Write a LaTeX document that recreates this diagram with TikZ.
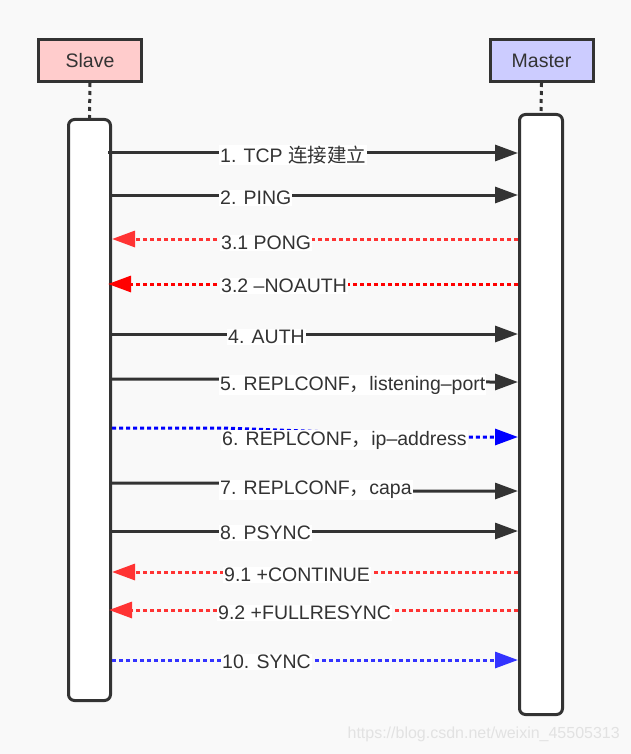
\documentclass[tikz,border=0pt]{standalone}
\usepackage{fontspec}
\setmainfont{Liberation Sans}
\newfontfamily\cjk{Noto Sans CJK SC}
\usetikzlibrary{arrows.meta}
\definecolor{ink}{HTML}{333333}
\definecolor{bg}{HTML}{F9F9F9}
\definecolor{slavefill}{HTML}{FFCCCC}
\definecolor{masterfill}{HTML}{CCCCFF}
\definecolor{redA}{HTML}{FF3333}
\definecolor{redB}{HTML}{FF0000}
\definecolor{blueA}{HTML}{0000FF}
\definecolor{blueB}{HTML}{3333FF}
\definecolor{wm}{HTML}{E2E2E2}
\tikzset{
  actor/.style={draw=ink, line width=3pt, minimum width=103pt, minimum height=42pt, inner sep=0pt, font=\fontsize{19.5}{22}\selectfont, text=ink},
  lifeline/.style={draw=ink, fill=white, line width=3pt, rounded corners=6pt, inner sep=0pt},
  msg/.style={line width=3pt, draw=ink},
  solidmsg/.style={msg, -{Triangle[length=23pt,width=16pt]}},
  dotmsg/.style={line width=3pt, dash pattern=on 4pt off 3pt, -{Triangle[length=23pt,width=16pt]}},
  lbl/.style={fill=white, inner sep=1pt, anchor=west, font=\fontsize{19.5}{22}\selectfont, text=ink},
  connector/.style={draw=ink, line width=3pt, dash pattern=on 4pt off 4pt},
}
\begin{document}
\begin{tikzpicture}[x=1pt, y=-1pt]
\fill[bg] (0,0) rectangle (631,754);
\useasboundingbox (0,0) rectangle (631,754);

\node[actor, fill=slavefill] (slave) at (90,60.5) {Slave};
\node[actor, fill=masterfill] (master) at (541.5,60.5) {Master};

\node[lifeline, minimum width=42pt, minimum height=581pt] (sl) at (89.5,410) {};
\node[lifeline, minimum width=43pt, minimum height=600pt] (ml) at (541,414.5) {};

\draw[connector] (slave.south) -- (sl.north);
\draw[connector] (master.south) -- (ml.north);

% 1
\draw[solidmsg] (108,153) -- (ml.west |- 0,153);
\node[lbl] (l1) at (219,155) {1. TCP {\cjk 连接建立}};
% 2
\draw[solidmsg] (sl.east |- 0,195) -- (ml.west |- 0,195);
\node[lbl] (l2) at (219,198) {2. PING};
% 3.1
\draw[dotmsg, redA] (ml.west |- 0,239) -- (sl.east |- 0,239);
\node[lbl] (l31) at (220,243) {3.1 PONG};
% 3.2
\draw[dotmsg, redB] (ml.west |- 0,284) -- (108,284);
\node[lbl] (l32) at (220,286) {3.2 –NOAUTH};
% 4
\draw[solidmsg] (sl.east |- 0,334) -- (ml.west |- 0,334);
\node[lbl] (l4) at (227,337) {4. AUTH};
% 5
\draw[solidmsg] (sl.east |- 0,379) -- (220,379) -- (490,382) -- (ml.west |- 0,382);
\node[lbl] (l5) at (219,385) {5. REPLCONF{\cjk ，}listening–port};
% 6
\draw[dotmsg, blueA] (sl.east |- 0,428) -- (222,428) -- (468,437) -- (ml.west |- 0,437);
\node[lbl] (l6) at (221,440) {6. REPLCONF{\cjk ，}ip–address};
% 7
\draw[solidmsg] (sl.east |- 0,483) -- (220,483) -- (410,491) -- (ml.west |- 0,491);
\node[lbl] (l7) at (219,490) {7. REPLCONF{\cjk ，}capa};
% 8
\draw[solidmsg] (sl.east |- 0,531) -- (ml.west |- 0,531);
\node[lbl] (l8) at (219,533) {8. PSYNC};
% 9.1
\draw[dotmsg, redA] (ml.west |- 0,572) -- (sl.east |- 0,572);
\node[lbl] (l91) at (223,575) {9.1 +CONTINUE};
% 9.2
\draw[dotmsg, redA] (ml.west |- 0,610) -- (109,610);
\node[lbl] (l92) at (217,613) {9.2 +FULLRESYNC};
% 10
\draw[dotmsg, blueB] (sl.east |- 0,660) -- (ml.west |- 0,660);
\node[lbl] (l10) at (221,662) {10. SYNC};

\node[text=wm, font=\fontsize{16}{18}\selectfont, anchor=east, inner sep=0pt] (wmark) at (620,734) {https://blog.csdn.net/weixin\_45505313};
\end{tikzpicture}
\end{document}
